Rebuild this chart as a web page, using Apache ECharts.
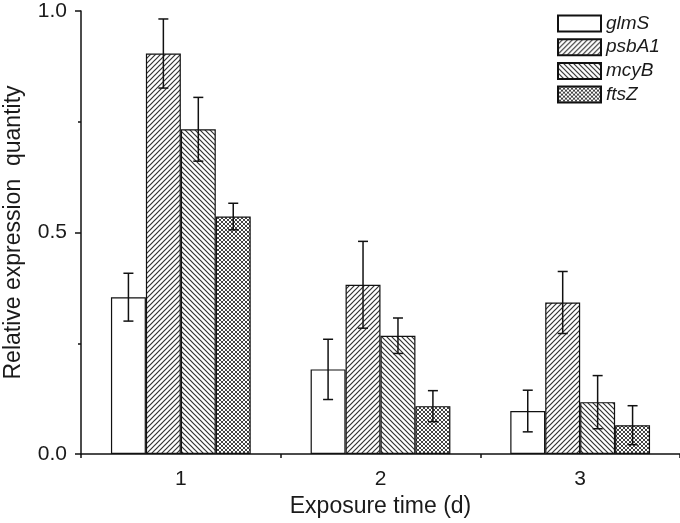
<!DOCTYPE html>
<html>
<head>
<meta charset="utf-8">
<script src="https://cdn.jsdelivr.net/npm/echarts@6/dist/echarts.min.js"></script>
<style>
html,body{margin:0;padding:0;background:#fff;}
#chart{width:680px;height:523px;}
</style>
</head>
<body>
<div id="chart"></div>
<script>
// ---- data ----
var categories = ['1', '2', '3'];
var seriesNames = ['glmS', 'psbA1', 'mcyB', 'ftsZ'];
var glmS = [0.354, 0.191, 0.097];
var psbA1 = [0.904, 0.382, 0.342];
var mcyB = [0.733, 0.267, 0.117];
var ftsZ = [0.536, 0.108, 0.065];
var glmSErr = [0.054, 0.068, 0.047];
var psbA1Err = [0.078, 0.098, 0.070];
var mcyBErr = [0.072, 0.040, 0.060];
var ftsZErr = [0.030, 0.035, 0.044];
var yTicks = [0, 0.5, 1.0];

var values = [glmS, psbA1, mcyB, ftsZ];
var errors = [glmSErr, psbA1Err, mcyBErr, ftsZErr];

// ---- patterns ----
function makePattern(kind) {
  var c = document.createElement('canvas');
  var s = kind === 'cross' ? 4 : 5;
  c.width = s; c.height = s;
  var ctx = c.getContext('2d');
  ctx.fillStyle = '#ffffff';
  ctx.fillRect(0, 0, s, s);
  ctx.strokeStyle = '#333333';
  ctx.lineWidth = 1.2;
  function fwd() {
    ctx.beginPath();
    ctx.moveTo(-1, s + 1); ctx.lineTo(s + 1, -1);
    ctx.moveTo(-1, 1); ctx.lineTo(1, -1);
    ctx.moveTo(s - 1, s + 1); ctx.lineTo(s + 1, s - 1);
    ctx.stroke();
  }
  function back() {
    ctx.beginPath();
    ctx.moveTo(-1, -1); ctx.lineTo(s + 1, s + 1);
    ctx.moveTo(s - 1, -1); ctx.lineTo(s + 1, 1);
    ctx.moveTo(-1, s - 1); ctx.lineTo(1, s + 1);
    ctx.stroke();
  }
  if (kind === 'fwd') fwd();
  if (kind === 'back') back();
  if (kind === 'cross') { ctx.strokeStyle = '#3a3a3a'; ctx.lineWidth = 0.95; fwd(); back(); }
  return {image: c, repeat: 'repeat'};
}
var fills = ['#ffffff', makePattern('fwd'), makePattern('back'), makePattern('cross')];

var FONT = '"Liberation Sans", Arial, Helvetica, sans-serif';
var TXT = '#1a1a1a';
var GAP_RATIO = 0.30;
var NB = 4;

var series = [];
seriesNames.forEach(function (name, i) {
  series.push({
    name: name,
    type: 'bar',
    data: values[i],
    barCategoryGap: '30%',
    barGap: '0%',
    itemStyle: {color: fills[i], borderColor: '#111', borderWidth: 1.2},
    emphasis: {disabled: true},
    z: 2
  });
});
seriesNames.forEach(function (name, i) {
  series.push({
    type: 'custom',
    name: name + '_err',
    data: categories.map(function (c, k) { return [k, values[i][k], errors[i][k]]; }),
    z: 5,
    silent: true,
    renderItem: function (params, api) {
      var k = api.value(0), v = api.value(1), e = api.value(2);
      var catW = api.size([1, 0])[0];
      var bw = catW * (1 - GAP_RATIO) / NB;
      var center = api.coord([k, v]);
      var x = center[0] + (i - (NB - 1) / 2) * bw;
      var top = api.coord([k, v + e])[1];
      var bot = api.coord([k, v - e])[1];
      var cap = 5;
      var st = {stroke: '#111', lineWidth: 1.5};
      return {
        type: 'group',
        children: [
          {type: 'line', shape: {x1: x, y1: top, x2: x, y2: bot}, style: st},
          {type: 'line', shape: {x1: x - cap, y1: top, x2: x + cap, y2: top}, style: st},
          {type: 'line', shape: {x1: x - cap, y1: bot, x2: x + cap, y2: bot}, style: st}
        ]
      };
    }
  });
});

var chart = echarts.init(document.getElementById('chart'), null, {renderer: 'canvas'});
chart.setOption({
  animation: false,
  backgroundColor: '#ffffff',
  grid: {left: 81, right: 0, top: 11, bottom: 69, containLabel: false, outerBoundsMode: 'none'},
  legend: {
    data: seriesNames,
    orient: 'vertical',
    left: 557,
    top: 14,
    padding: 0,
    itemWidth: 43,
    itemHeight: 16,
    itemGap: 4.7,
    icon: 'rect',
    selectedMode: false,
    textStyle: {fontFamily: FONT, fontStyle: 'italic', fontSize: 19, color: TXT}
  },
  xAxis: [{
    type: 'category',
    data: categories,
    boundaryGap: true,
    name: 'Exposure time (d)',
    nameLocation: 'middle',
    nameGap: 41,
    nameTextStyle: {fontFamily: FONT, fontSize: 23, color: TXT},
    axisLine: {lineStyle: {color: '#111', width: 1.5}},
    axisTick: {alignWithLabel: true, length: 7, lineStyle: {color: '#111', width: 1.5}},
    axisLabel: {fontFamily: FONT, fontSize: 21, color: TXT, margin: 15},
    splitLine: {show: false}
  }, {
    type: 'value',
    position: 'bottom',
    min: 0, max: 3, interval: 1,
    axisLine: {show: false},
    axisTick: {show: true, length: 4, lineStyle: {color: '#111', width: 1.5}},
    axisLabel: {show: false},
    splitLine: {show: false}
  }],
  yAxis: {
    type: 'value',
    min: yTicks[0], max: yTicks[yTicks.length - 1], interval: 0.5,
    name: 'Relative expression  quantity',
    nameLocation: 'middle',
    nameGap: 56,
    nameTextStyle: {fontFamily: FONT, fontSize: 23, color: TXT},
    axisLine: {show: true, lineStyle: {color: '#111', width: 1.5}},
    axisTick: {show: true, length: 6, lineStyle: {color: '#111', width: 1.5}},
    minorTick: {show: true, splitNumber: 2, length: 3, lineStyle: {color: '#111', width: 1.5}},
    axisLabel: {fontFamily: FONT, fontSize: 21, color: TXT, margin: 14, formatter: function (v) { return v.toFixed(1); }},
    splitLine: {show: false}
  },
  series: series
});
</script>
</body>
</html>
